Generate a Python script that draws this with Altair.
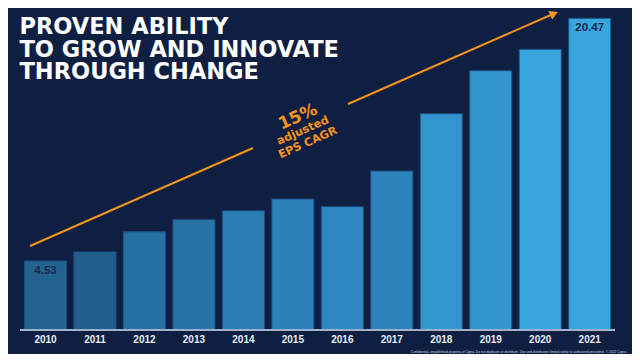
import altair as alt
import pandas as pd

# ---- data ----
years = [2010, 2011, 2012, 2013, 2014, 2015, 2016, 2017, 2018, 2019, 2020, 2021]
eps = [4.53, 5.12, 6.45, 7.24, 7.83, 8.60, 8.10, 10.44, 14.20, 17.03, 18.43, 20.47]
bar_colors = ["#24628F", "#215E8C", "#2670A3", "#2773A7", "#297DB4", "#2B82BA",
              "#2E88C2", "#2C82BA", "#3394CF", "#3194CE", "#38A5DF", "#38A5DF"]
value_labels = ["4.53", "", "", "", "", "", "", "", "", "", "", "20.47"]
year_labels = [str(y) for y in years]

title_lines = ["PROVEN ABILITY", "TO GROW AND INNOVATE", "THROUGH CHANGE"]

# arrow segments (in data coordinates: year, EPS)
arrow_x0 = [2009.687, 2016.115]
arrow_y0 = [5.515, 14.84]
arrow_x1 = [2014.194, 2020.259]
arrow_y1 = [11.95, 20.75]
arrow_head_x = [2020.279]
arrow_head_y = [20.78]

cagr_text = ["15%", "adjusted", "EPS CAGR"]
cagr_x = [2015.104, 2015.205, 2015.306]
cagr_y = [13.99, 13.07, 12.28]
cagr_size = [17, 11.3, 11.3]

footnote = ("Confidential, unpublished property of Cigna. Do not duplicate or distribute. "
            "Use and distribution limited solely to authorized personnel. \u00a9 2022 Cigna")

BG = "#0F1F42"
ORANGE = "#F7941D"

bars_df = pd.DataFrame({"year": years, "eps": eps, "color": bar_colors,
                        "vlabel": value_labels, "ylabel": year_labels})
arrow_df = pd.DataFrame({"x0": arrow_x0, "y0": arrow_y0, "x1": arrow_x1, "y1": arrow_y1})
head_df = pd.DataFrame({"x": arrow_head_x, "y": arrow_head_y})
cagr_df = pd.DataFrame({"t": cagr_text, "x": cagr_x, "y": cagr_y, "fs": cagr_size})

xs = alt.Scale(domain=[2010, 2021], range=[37.5, 581.7], nice=False, zero=False)
ys = alt.Scale(domain=[0, 21], range=[322, 2.2], nice=False, zero=False)

base = alt.Chart(bars_df)

bars = base.mark_rect(stroke="#1E4F80", strokeWidth=1).transform_calculate(
    xa="datum.year - 0.425", xb="datum.year + 0.425"
).encode(
    x=alt.X("xa:Q", scale=xs, axis=None),
    x2="xb:Q",
    y=alt.Y("eps:Q", scale=ys, axis=None),
    y2=alt.datum(0),
    color=alt.Color("color:N", scale=None),
)

baseline = alt.Chart(bars_df).mark_rule(color="#9FB3CC", strokeWidth=1.5).encode(
    x=alt.value(12), x2=alt.value(607), y=alt.value(322)
)

xlabels = base.mark_text(fontSize=10, fontWeight="bold", font="Liberation Sans",
                         color="#E6ECF5", baseline="middle").encode(
    x=alt.X("year:Q", scale=xs, axis=None),
    y=alt.value(332),
    text="ylabel:N",
)

vlabels = base.transform_filter("datum.vlabel != ''").mark_text(
    fontSize=11.5, fontWeight="bold", font="Liberation Sans", color="#14284B",
    baseline="middle", dy=9.5
).encode(
    x=alt.X("year:Q", scale=xs, axis=None),
    y=alt.Y("eps:Q", scale=ys, axis=None),
    text="vlabel:N",
)

arrows = alt.Chart(arrow_df).mark_rule(color=ORANGE, strokeWidth=2).encode(
    x=alt.X("x0:Q", scale=xs, axis=None),
    y=alt.Y("y0:Q", scale=ys, axis=None),
    x2="x1:Q",
    y2="y1:Q",
)

head = alt.Chart(head_df).mark_point(shape="triangle-up", filled=True, color=ORANGE,
                                     opacity=1, size=90, angle=66).encode(
    x=alt.X("x:Q", scale=xs, axis=None),
    y=alt.Y("y:Q", scale=ys, axis=None),
)

cagr = alt.Chart(cagr_df).mark_text(color=ORANGE, fontWeight="bold", font="DejaVu Sans",
                                    angle=336, align="center", baseline="middle").encode(
    x=alt.X("x:Q", scale=xs, axis=None),
    y=alt.Y("y:Q", scale=ys, axis=None),
    text="t:N",
    size=alt.Size("fs:Q", scale=None, legend=None),
)

title_layers = []
for i, line in enumerate(title_lines):
    title_layers.append(
        alt.Chart(bars_df).mark_text(
            font="DejaVu Sans", fontWeight="bold", fontSize=22.5, color="white",
            align="left", baseline="alphabetic"
        ).encode(x=alt.value(11.5), y=alt.value(26.3 + i * 22.3), text=alt.value(line))
        .transform_filter("datum.year == 2010")
    )

foot = alt.Chart(bars_df).transform_filter("datum.year == 2010").mark_text(
    fontSize=3.3, color="#C8D2E0", align="right", baseline="middle", font="Liberation Sans"
).encode(x=alt.value(618), y=alt.value(344), text=alt.value(footnote))

chart = alt.layer(bars, baseline, xlabels, vlabels, arrows, head, cagr, foot, *title_layers).properties(
    width=624, height=346,
    autosize=alt.AutoSizeParams(type="none"),
    padding=0,
    background=BG,
).configure_view(stroke=None)

chart.save("out.html", embed_options={"renderer": "svg", "actions": False})
